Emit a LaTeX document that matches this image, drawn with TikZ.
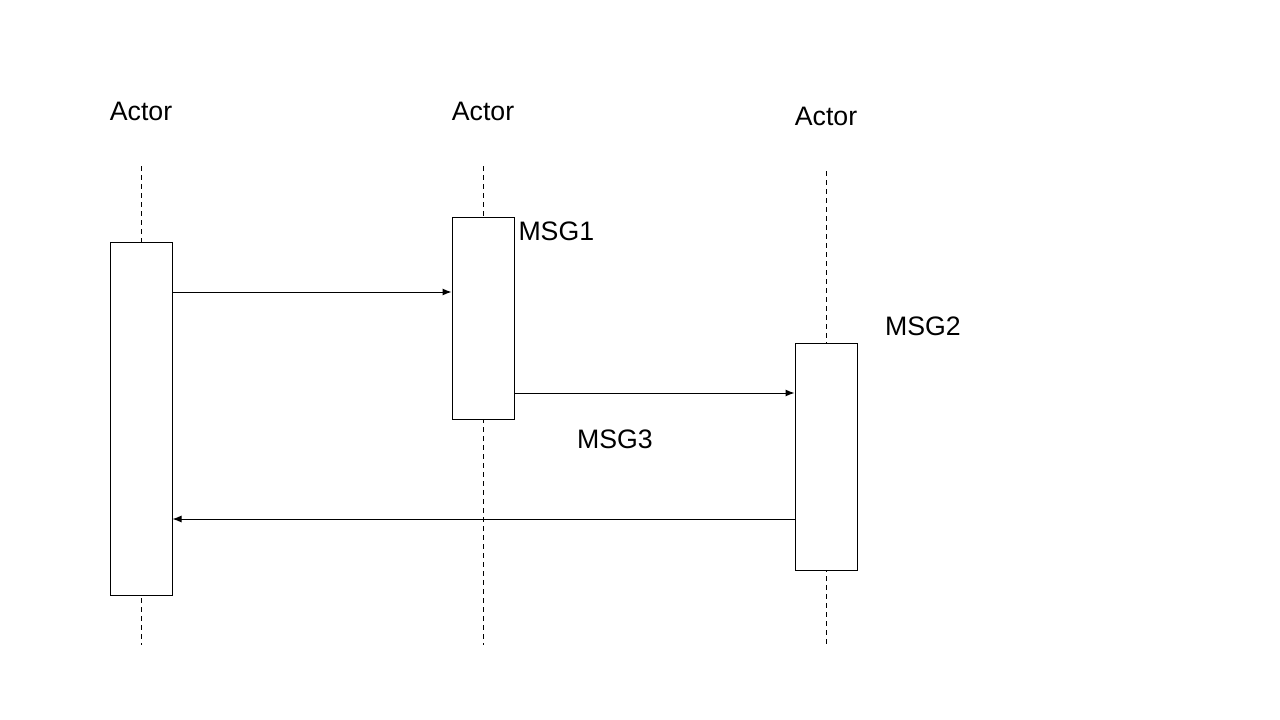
\documentclass[tikz,border=0pt]{standalone}
\usepackage{fontspec}
\setmainfont{Liberation Sans}
\usetikzlibrary{arrows.meta,positioning}

\begin{document}
\begin{tikzpicture}[
    x=1pt, y=-1pt,
    line width=1pt,
    lifeline/.style={draw, dash pattern=on 5pt off 4pt},
    actbox/.style={rectangle, draw, fill=white,
                   minimum width=62pt, inner sep=0pt},
    msg/.style={draw, -{Latex[length=9pt,width=7pt]}},
    lbl/.style={font=\fontsize{26.7}{30}\selectfont, inner sep=0pt}]
    \useasboundingbox (0,0) rectangle (1280,720);

    % lifelines
    \coordinate (top1) at (141,166);
    \coordinate (bot1) at (141,645);
    \coordinate (top2) at (483,166);
    \coordinate (bot2) at (483,645);
    \coordinate (top3) at (826,171);
    \coordinate (bot3) at (826,645);
    \draw[lifeline] (top1) -- (bot1);
    \draw[lifeline] (top2) -- (bot2);
    \draw[lifeline] (top3) -- (bot3);

    % activation boxes
    \node[actbox, minimum height=353pt] (box1) at (141,418.5) {};
    \node[actbox, minimum height=202pt] (box2) at (483,318) {};
    \node[actbox, minimum height=227pt] (box3) at (826,456.5) {};

    % actors
    \node[lbl] (actor1) at (141,111) {Actor};
    \node[lbl] (actor2) at (483,111) {Actor};
    \node[lbl] (actor3) at (826,116) {Actor};

    % messages
    \coordinate (m1) at (0,292);
    \coordinate (m2) at (0,393);
    \coordinate (m3) at (0,519);
    \draw[msg] (box1.east |- m1) -- (box2.west |- m1);
    \draw[msg] (box2.east |- m2) -- (box3.west |- m2);
    \draw[msg] (box3.west |- m3) -- (box1.east |- m3);

    \node[lbl, anchor=west] (msg1) at (518,231) {MSG1};
    \node[lbl] (msg2) at (923,326) {MSG2};
    \node[lbl] (msg3) at (615,439) {MSG3};
\end{tikzpicture}
\end{document}
